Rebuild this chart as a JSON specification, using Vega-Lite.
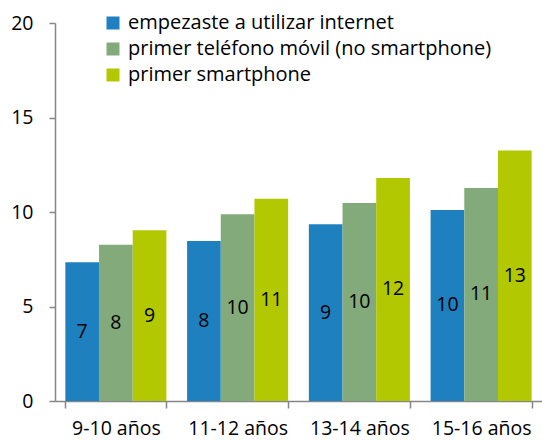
{
  "$schema": "https://vega.github.io/schema/vega-lite/v6.json",
  "width": 487,
  "height": 378,
  "autosize": {"type": "none"},
  "padding": {"left": 55, "top": 23, "right": 0, "bottom": 40},
  "background": "white",
  "config": {
    "view": {"stroke": null},
    "font": "Open Sans",
    "axis": {"labelFont": "Open Sans", "labelFontSize": 19.5, "labelColor": "#000000", "domainColor": "#868686", "tickColor": "#868686", "domainWidth": 1.5, "tickWidth": 1.5, "grid": false, "title": null}
  },
  "data": {
    "values": [
      {"edad": "9-10 años", "serie": "empezaste a utilizar internet", "v": 7.34},
      {"edad": "9-10 años", "serie": "primer teléfono móvil (no smartphone)", "v": 8.27},
      {"edad": "9-10 años", "serie": "primer smartphone", "v": 9.03},
      {"edad": "11-12 años", "serie": "empezaste a utilizar internet", "v": 8.47},
      {"edad": "11-12 años", "serie": "primer teléfono móvil (no smartphone)", "v": 9.88},
      {"edad": "11-12 años", "serie": "primer smartphone", "v": 10.7},
      {"edad": "13-14 años", "serie": "empezaste a utilizar internet", "v": 9.35},
      {"edad": "13-14 años", "serie": "primer teléfono móvil (no smartphone)", "v": 10.48},
      {"edad": "13-14 años", "serie": "primer smartphone", "v": 11.8},
      {"edad": "15-16 años", "serie": "empezaste a utilizar internet", "v": 10.11},
      {"edad": "15-16 años", "serie": "primer teléfono móvil (no smartphone)", "v": 11.27},
      {"edad": "15-16 años", "serie": "primer smartphone", "v": 13.26}
    ]
  },
  "transform": [{"calculate": "datum.v / 2", "as": "mid"}],
  "encoding": {
    "x": {
      "field": "edad", "type": "nominal", "sort": null,
      "scale": {"paddingInner": 0.17, "paddingOuter": 0.085},
      "axis": {"labelAngle": 0, "tickBand": "extent", "tickSize": 7, "labelPadding": 11, "tickExtra": true}
    },
    "xOffset": {"field": "serie", "type": "nominal", "sort": null, "scale": {"paddingInner": 0, "paddingOuter": 0}}
  },
  "layer": [
    {
      "mark": {"type": "bar"},
      "encoding": {
        "y": {"field": "v", "type": "quantitative", "scale": {"domain": [0, 20]}, "axis": {"values": [0, 5, 10, 15, 20], "tickSize": 6, "labelPadding": 16}},
        "color": {
          "field": "serie", "type": "nominal", "sort": null,
          "scale": {"domain": ["empezaste a utilizar internet", "primer teléfono móvil (no smartphone)", "primer smartphone"], "range": ["#1F80BF", "#82AA7A", "#B2C800"]},
          "legend": {"title": null, "orient": "none", "legendX": 48, "legendY": -10, "symbolType": "square", "symbolSize": 169, "symbolStrokeWidth": 0, "labelFont": "Open Sans", "labelFontSize": 20, "labelColor": "#000000", "labelOffset": 5, "rowPadding": 6, "padding": 0, "labelLimit": 500}
        }
      }
    },
    {
      "mark": {"type": "text", "fontSize": 19.5, "font": "Open Sans", "color": "#000000", "baseline": "middle"},
      "encoding": {
        "y": {"field": "mid", "type": "quantitative"},
        "text": {"field": "v", "type": "quantitative", "format": ".0f"}
      }
    }
  ]
}
